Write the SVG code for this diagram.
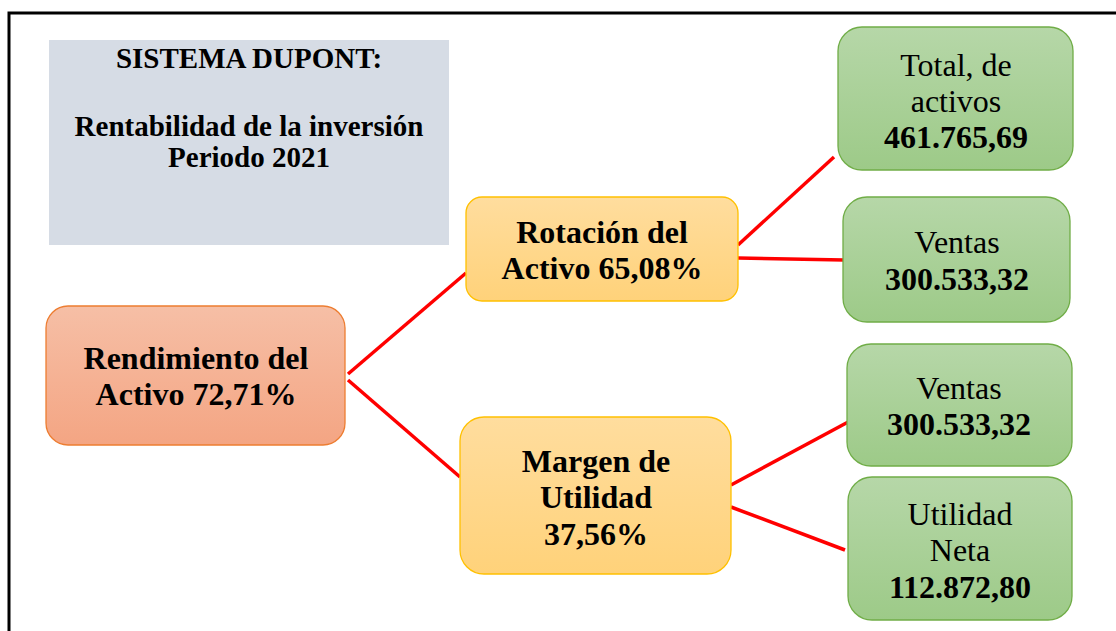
<svg xmlns="http://www.w3.org/2000/svg" width="1116" height="631" viewBox="0 0 1116 631">
<defs>
<linearGradient id="gOr" x1="0" y1="0" x2="0" y2="1"><stop offset="0" stop-color="#F6BFA6"/><stop offset="1" stop-color="#F4A583"/></linearGradient>
<linearGradient id="gYe" x1="0" y1="0" x2="0" y2="1"><stop offset="0" stop-color="#FFDD9E"/><stop offset="1" stop-color="#FFD27A"/></linearGradient>
<linearGradient id="gGr" x1="0" y1="0" x2="0" y2="1"><stop offset="0" stop-color="#B6D7A8"/><stop offset="1" stop-color="#9DCA88"/></linearGradient>
<style>
.t{font-family:"Liberation Serif","Times New Roman",serif;font-size:32px;text-anchor:middle;fill:#000}
.b{font-weight:bold}
.title{font-family:"Liberation Serif","Times New Roman",serif;font-size:29px;font-weight:bold;text-anchor:middle;fill:#000}
.or{fill:url(#gOr);stroke:#ED7D31;stroke-width:1.3}
.ye{fill:url(#gYe);stroke:#FFC000;stroke-width:1.3}
.gr{fill:url(#gGr);stroke:#70AD47;stroke-width:1.3}
.c{stroke:#FF0000;stroke-width:3.5;fill:none}
</style>
</defs>
<rect width="1116" height="631" fill="#fff"/>
<path d="M9,631 V13 H1116" fill="none" stroke="#000" stroke-width="3"/>
<g id="connectors">
<line class="c" x1="348" y1="374" x2="466" y2="273"/>
<line class="c" x1="348" y1="380" x2="460" y2="477"/>
<line class="c" x1="738" y1="245" x2="834" y2="157"/>
<line class="c" x1="738" y1="258" x2="844" y2="260"/>
<line class="c" x1="731" y1="485" x2="850" y2="421"/>
<line class="c" x1="731" y1="507" x2="845" y2="550"/>
</g>
<g id="title">
<rect x="49" y="40" width="400" height="205" fill="#D6DCE5"/>
<text class="title" x="249" y="68">SISTEMA DUPONT:</text>
<text class="title" x="249" y="136">Rentabilidad de la inversión</text>
<text class="title" x="249" y="167">Periodo 2021</text>
</g>
<g id="rendimiento">
<rect class="or" x="46" y="306" width="299" height="139" rx="22"/>
<text class="t b" x="196" y="369">Rendimiento del</text>
<text class="t b" x="196" y="405">Activo 72,71%</text>
</g>
<g id="rotacion">
<rect class="ye" x="466" y="197" width="272" height="104" rx="16"/>
<text class="t b" x="602" y="243">Rotación del</text>
<text class="t b" x="602" y="279">Activo 65,08%</text>
</g>
<g id="margen">
<rect class="ye" x="460" y="417" width="271" height="157" rx="24"/>
<text class="t b" x="596" y="472">Margen de</text>
<text class="t b" x="596" y="508">Utilidad</text>
<text class="t b" x="596" y="545">37,56%</text>
</g>
<g id="total">
<rect class="gr" x="838" y="27" width="235" height="143" rx="24"/>
<text class="t" x="956" y="76">Total, de</text>
<text class="t" x="956" y="112">activos</text>
<text class="t b" x="956" y="148">461.765,69</text>
</g>
<g id="ventas1">
<rect class="gr" x="843" y="197" width="227" height="125" rx="24"/>
<text class="t" x="957" y="253">Ventas</text>
<text class="t b" x="957" y="290">300.533,32</text>
</g>
<g id="ventas2">
<rect class="gr" x="847" y="344" width="225" height="122" rx="24"/>
<text class="t" x="959" y="399">Ventas</text>
<text class="t b" x="959" y="435">300.533,32</text>
</g>
<g id="utilidad">
<rect class="gr" x="848" y="477" width="224" height="143" rx="24"/>
<text class="t" x="960" y="525">Utilidad</text>
<text class="t" x="960" y="561">Neta</text>
<text class="t b" x="960" y="598">112.872,80</text>
</g>
</svg>
